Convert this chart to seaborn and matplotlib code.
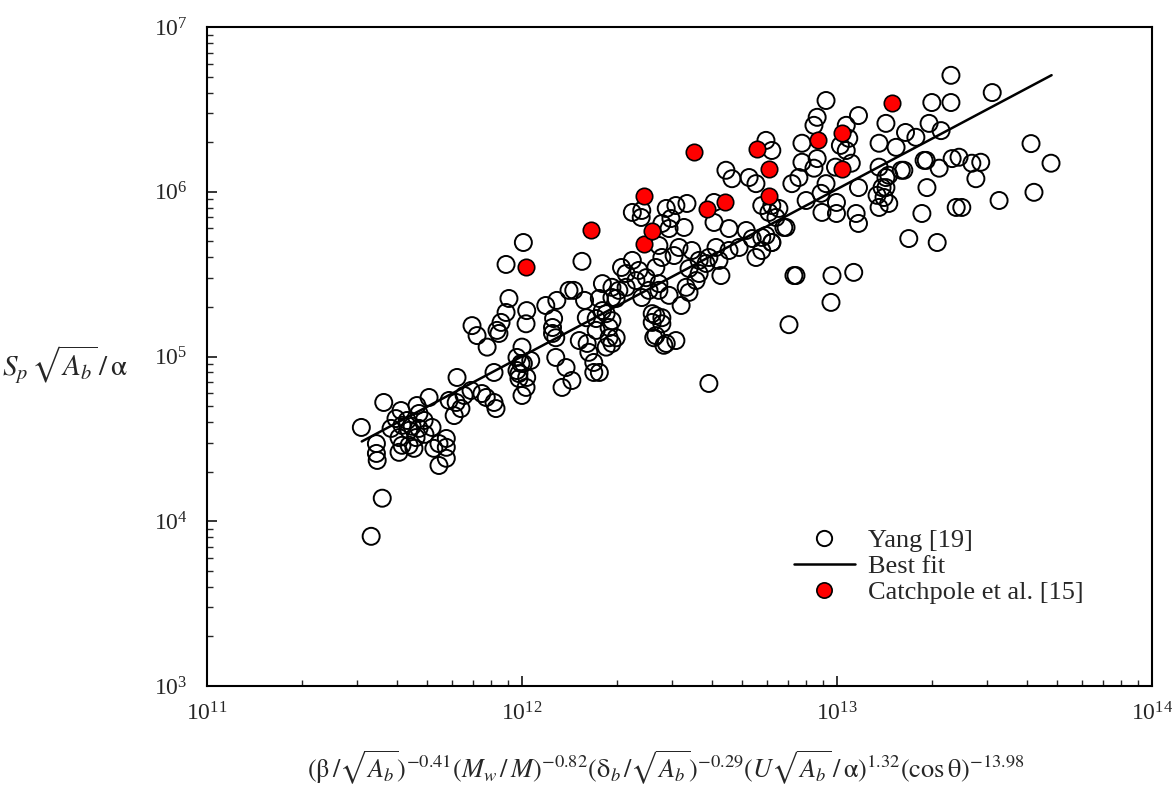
import pandas as pd
import matplotlib
matplotlib.use('Agg')
import matplotlib.pyplot as plt
import seaborn as sns
import numpy as np
from matplotlib.lines import Line2D

# Yang [19] data, x in units of 1e12, y in units of 1e5
yang_x = [0.309, 0.345, 0.345, 0.347, 0.364, 0.360, 0.332, 0.413, 0.398, 0.416,
          0.438, 0.407, 0.416, 0.407, 0.438, 0.461, 0.471, 0.489, 0.507, 0.518,
          0.545, 0.575, 0.575, 0.575, 0.545, 0.525, 0.454, 0.622, 0.587, 0.618,
          0.640, 0.609, 0.655, 0.689, 0.770, 0.815, 0.827, 0.775, 0.845, 0.815,
          1.00, 0.993, 0.964, 0.978, 1.03, 1.00, 1.066, 0.432, 0.448, 0.384,
          0.471, 0.492, 0.464,
          1.01, 0.890, 1.55, 0.909, 0.890, 0.858, 0.833, 1.035, 1.03, 1.19,
          1.29, 1.41, 1.46, 1.58, 1.80, 1.76, 1.93, 1.99, 1.26, 1.25,
          1.25, 1.28, 0.964, 1.01, 0.978, 1.035, 0.746, 1.28, 1.38, 1.44,
          1.34, 1.52, 1.61, 1.63, 1.69, 1.69, 1.60, 1.72, 1.80, 1.89,
          1.99, 1.93, 1.85, 1.72, 2.07, 2.24, 2.35, 2.30, 2.48, 2.53,
          2.72, 2.66, 2.78, 2.40, 2.66, 2.78, 2.62, 2.82, 2.14, 2.14,
          2.24, 2.40, 2.39, 2.87, 3.08, 3.34, 4.07, 4.07, 4.54, 3.27,
          2.97, 2.93, 3.15, 3.04, 2.72, 3.46, 3.65, 3.92, 4.13, 4.54,
          4.89, 5.15, 5.38, 5.53, 5.77, 5.95, 6.21, 6.78, 6.08, 5.77,
          6.21, 6.40, 3.39, 3.65, 3.84, 4.22, 4.28, 3.57, 3.32, 3.39,
          2.93, 3.20, 2.72, 2.03, 1.93, 2.59, 2.78, 2.59, 2.66, 2.87,
          3.08, 7.30, 7.04, 3.92, 1.93, 1.89, 1.85, 1.76, 4.44, 4.64,
          5.26, 5.53, 2.78,
          9.23, 23.0, 20.0, 23.0, 11.7, 8.65, 8.45, 10.7, 14.3, 7.74,
          5.95, 6.21, 10.25, 10.9, 10.7, 13.6, 15.4, 16.5, 17.8, 19.6,
          21.4, 19.2, 21.1, 23.2, 8.65, 8.45, 9.89, 11.1, 13.6, 14.3,
          13.9, 13.4, 13.6, 14.6, 16.0, 11.7, 9.23, 8.90, 7.98, 7.19,
          7.57, 9.96, 9.96, 8.96, 11.5, 11.7, 6.89, 6.21, 5.77, 18.6,
          16.9, 20.8, 23.9, 7.41, 9.64, 11.3, 9.57, 6.54, 7.74,
          31.1, 41.3, 47.8, 18.9, 24.4, 26.8, 28.6, 27.6, 19.3, 16.3,
          42.2, 32.7, 24.9, 14.6, 14.3, 14.1, 0.694, 0.720]
yang_y = [0.371, 0.296, 0.258, 0.234, 0.526, 0.138, 0.081, 0.470, 0.420, 0.382,
          0.356, 0.322, 0.289, 0.262, 0.289, 0.322, 0.451, 0.409, 0.564, 0.371,
          0.296, 0.318, 0.281, 0.241, 0.218, 0.277, 0.277, 0.746, 0.541, 0.526,
          0.483, 0.438, 0.580, 0.622, 0.564, 0.526, 0.483, 1.14, 1.38, 0.800,
          1.14, 0.907, 0.822, 0.735, 0.649, 0.580, 0.946, 0.409, 0.377, 0.366,
          0.366, 0.337, 0.504,
          4.92, 3.62, 3.78, 2.25, 1.85, 1.61, 1.44, 1.90, 1.58, 2.04,
          2.19, 2.52, 2.52, 2.19, 2.77, 2.25, 2.63, 2.25, 1.70, 1.50,
          1.38, 1.30, 0.987, 0.907, 0.788, 0.746, 0.596, 0.987, 0.857, 0.715,
          0.649, 1.25, 1.20, 1.06, 0.920, 0.800, 1.72, 1.70, 1.90, 1.50,
          1.30, 1.20, 1.82, 1.44, 3.47, 3.83, 3.33, 2.89, 3.01, 2.52,
          2.77, 3.47, 3.99, 2.28, 1.77, 1.58, 1.30, 1.17, 3.19, 2.63,
          7.49, 7.70, 6.98, 7.92, 8.25, 8.49, 8.61, 6.51, 5.98, 6.07,
          6.88, 5.98, 4.59, 4.10, 4.72, 4.40, 3.83, 3.99, 4.59, 4.40,
          4.59, 5.82, 5.20, 3.99, 4.40, 5.43, 4.92, 6.07, 7.49, 8.25,
          8.25, 6.98, 3.42, 3.19, 3.67, 3.83, 3.10, 2.89, 2.63, 2.45,
          2.35, 2.04, 2.52, 2.52, 2.28, 1.82, 1.72, 1.61, 1.34, 1.20,
          1.25, 3.10, 1.56, 0.686, 1.65, 1.30, 1.14, 0.800, 13.5, 12.0,
          12.2, 11.2, 6.42,
          35.8, 50.9, 34.8, 34.8, 29.0, 28.3, 25.3, 25.3, 26.0, 19.7,
          20.5, 17.8, 19.1, 21.1, 17.8, 19.7, 18.6, 22.9, 21.4, 26.0,
          23.5, 15.5, 13.9, 15.9, 15.9, 13.9, 14.1, 14.9, 14.1, 12.2,
          10.6, 9.51, 8.03, 8.49, 13.5, 10.6, 11.2, 9.78, 8.85, 11.2,
          12.2, 8.61, 7.38, 7.49, 7.38, 6.42, 6.07, 4.92, 5.28, 7.38,
          5.20, 4.92, 8.03, 3.10, 3.10, 3.24, 2.13, 7.92, 15.1,
          40.0, 19.6, 14.9, 15.5, 16.2, 14.9, 15.1, 12.0, 10.6, 13.5,
          9.92, 8.85, 8.03, 12.6, 10.6, 9.23, 1.54, 1.34]

# Catchpole et al. [15]
catch_x = [1.03e12, 1.66e12, 2.44e12, 2.44e12, 2.59e12, 3.52e12, 3.87e12, 4.41e12,
           5.57e12, 6.08e12, 6.08e12, 8.70e12, 1.04e13, 1.04e13, 1.49e13]
catch_y = [3.47e5, 5.82e5, 4.85e5, 9.36e5, 5.74e5, 1.75e6, 7.91e5, 8.61e5,
           1.83e6, 1.38e6, 9.36e5, 2.05e6, 2.26e6, 1.38e6, 3.48e6]

# best fit line end points
fit_x = [3.1e11, 4.8e13]
fit_y = [3.05e4, 5.1e6]

yang = pd.DataFrame({'x': np.array(yang_x) * 1e12, 'y': np.array(yang_y) * 1e5})
catch = pd.DataFrame({'x': catch_x, 'y': catch_y})
fit = pd.DataFrame({'x': fit_x, 'y': fit_y})

sns.set_style('ticks')
plt.rcParams['font.family'] = ['Liberation Serif', 'DejaVu Serif']
plt.rcParams['mathtext.fontset'] = 'stix'

fig = plt.figure(figsize=(11.75, 7.9), dpi=100)
fig.patch.set_facecolor('white')
ax = fig.add_axes([207 / 1175, 1 - 686 / 790, 945 / 1175, 659 / 790])

sns.scatterplot(data=yang, x='x', y='y', ax=ax, marker='o', s=150,
                facecolors='none', edgecolor='black', linewidth=1.4, zorder=2)
sns.lineplot(data=fit, x='x', y='y', ax=ax, color='black', linewidth=1.8, zorder=3)
sns.scatterplot(data=catch, x='x', y='y', ax=ax, marker='o', s=140,
                color='red', edgecolor='black', linewidth=1.2, zorder=4)

ax.set_xscale('log')
ax.set_yscale('log')
ax.set_xlim(1e11, 1e14)
ax.set_ylim(1e3, 1e7)

for s in ax.spines.values():
    s.set_linewidth(1.5)
    s.set_color('black')
ax.tick_params(which='major', direction='in', length=7, width=1.3, labelsize=17,
               pad=12, top=False, right=False)
ax.tick_params(axis='y', which='major', pad=14)
ax.tick_params(which='minor', direction='in', length=4, width=1.0, top=False, right=False)

ax.set_xlabel(r'$(\mathrm{\beta}\,/\sqrt{A_b})^{-0.41}(M_w\,/\,M)^{-0.82}'
              r'(\mathrm{\delta}_b\,/\sqrt{A_b})^{-0.29}(U\sqrt{A_b}\,/\,\mathrm{\alpha})^{1.32}'
              r'(\mathrm{cos\,\theta})^{-13.98}$', fontsize=19)
ax.xaxis.set_label_coords(0.485, -0.125)
ax.xaxis.label.set_va('center')
ax.set_ylabel(r'$S_p\,\sqrt{A_b}\,/\,\mathrm{\alpha}$', fontsize=21, rotation=0)
ax.yaxis.set_label_coords(-0.150, 0.487)
ax.yaxis.label.set_va('center')
ax.yaxis.label.set_ha('center')

handles = [
    Line2D([], [], marker='o', linestyle='none', markersize=11, markerfacecolor='white',
           markeredgecolor='black', markeredgewidth=1.4),
    Line2D([], [], color='black', linewidth=1.8),
    Line2D([], [], marker='o', linestyle='none', markersize=11, markerfacecolor='red',
           markeredgecolor='black', markeredgewidth=1.2),
]
ax.legend(handles, ['Yang [19]', 'Best fit', 'Catchpole et al. [15]'],
          loc='upper left', bbox_to_anchor=(0.61, 0.255), frameon=False,
          fontsize=19, handlelength=2.3, handletextpad=0.5, labelspacing=0.1,
          borderaxespad=0)

plt.savefig('out.png', dpi=100, facecolor='white')
plt.close()
